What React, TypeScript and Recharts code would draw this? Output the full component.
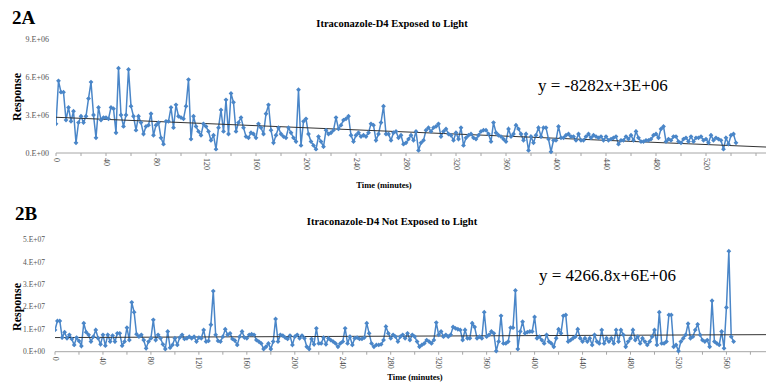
import React from 'react';
import { LineChart, Line, XAxis, YAxis, ReferenceLine } from 'recharts';

// sampling interval of the instrument (minutes between injections)
const SAMPLE_MINUTES = 2;

// 2A - exposed to light, response in millions
const exposedResponse = [
  2.3, 5.7, 4.8, 4.8, 2.6, 3.6, 2.5, 3.3, 0.8,
  2.4, 2.9, 2.4, 2.9, 4.3, 5.6, 3.0, 1.2, 3.6, 2.6,
  2.8, 2.8, 2.7, 3.6, 3.5, 1.6, 6.7, 3.0, 2.1, 3.0,
  6.6, 3.7, 2.9, 1.8, 2.9, 2.4, 1.5, 2.1, 2.2, 3.1,
  1.4, 2.2, 2.4, 1.2, 0.7, 2.5, 2.5, 3.6, 2.0,
  3.8, 2.9, 2.8, 2.7, 3.7, 5.8, 1.1, 2.9, 2.1, 1.7,
  1.4, 2.3, 2.1, 1.7, 1.0, 1.4, 0.3, 2.0, 3.4, 1.7,
  4.2, 1.5, 4.7, 4.0, 1.7, 2.4, 2.8, 2.0, 1.3, 1.2,
  1.6, 1.5, 1.2, 2.3, 2.0, 1.5, 3.1, 3.8, 1.8,
  0.8, 1.4, 2.0, 1.5, 1.3, 1.2, 2.0, 1.6, 1.2, 0.9,
  5.0, 0.6, 2.5, 2.7, 1.5, 0.9, 0.6, 0.3, 1.3, 0.9,
  0.5, 1.8, 1.5, 1.6, 1.8, 2.8, 1.9, 2.2, 2.6, 2.7,
  2.9, 1.4, 0.9, 1.4, 1.6, 1.3, 1.4, 1.3, 1.6, 2.3, 2.2, 1.0, 1.5, 2.4, 3.7,
  1.5, 1.5, 1.0, 1.6, 1.7, 1.2, 1.4, 0.7, 0.8,
  1.1, 1.4, 1.0, 1.7, 0.2, 0.8, 1.0, 1.8, 2.0, 1.7,
  2.0, 2.1, 2.3, 1.3, 1.7, 1.9, 1.5, 1.4, 1.0, 1.6,
  1.1, 2.0, 0.6, 1.2, 1.4, 1.5, 1.2, 1.1, 1.4, 1.7,
  1.8, 1.8, 1.5, 0.9, 2.4, 1.6, 1.4, 1.3, 1.1, 0.9,
  1.9, 1.3, 1.5, 2.2, 1.9, 1.5, 1.0, 1.5, 0.2, 1.3,
  0.8, 1.4, 2.0, 1.3, 2.0, 2.0, 1.1, 0.1, 1.0,
  1.0, 2.1, 1.2, 1.2, 1.4, 1.5, 1.3, 1.3, 1.0, 1.5,
  1.0, 1.0, 1.3, 1.5, 1.2, 1.4, 1.3, 1.2, 1.3, 1.0,
  1.3, 1.0, 1.1, 1.2, 1.3, 0.7, 1.0, 1.0, 1.3, 1.1,
  1.4, 1.0, 1.7, 1.2, 0.9, 0.9, 1.0, 1.0, 1.1, 1.4,
  1.5, 1.2, 1.9, 2.1, 0.9, 1.1, 1.0, 1.3, 1.3, 0.9,
  0.8, 1.1, 1.2, 0.9, 1.3, 0.9, 1.2, 1.2, 1.3, 1.0,
  1.1, 0.8, 1.4, 1.0, 1.2, 1.1, 1.0, 0.3, 1.2, 0.7,
  1.4, 1.5, 0.8,
];

// 2B - not exposed to light, response in millions
const darkResponse = [
  9.7, 13.7, 13.7, 6.3, 8.7, 6, 7.5, 5.7, 3,
  6.3, 4.8, 2.5, 12.7, 8.7, 7.5, 4.5, 6.7, 9.7, 6,
  3.3, 7.5, 2.7, 7.5, 4.5, 7.2, 4.5, 8.2, 8.2, 2.7,
  4.5, 10.7, 5.2, 22, 17.6, 7.8, 6.7, 7.5, 5.2, 1.5,
  4.5, 6, 14.2, 5.2, 7.5, 6, 3.3, 1.2, 9, 1.8,
  3, 6, 3, 6.3, 7.5, 5.7, 6, 6.7, 6, 6.7,
  4.5, 6.3, 6, 9.7, 4.5, 4.8, 12, 27, 7.5, 4.8,
  4.5, 6.7, 10, 7.5, 8.2, 5.7, 5, 3, 6.7,
  9, 6.3, 6, 7.5, 7.8, 7.5, 5.2, 4.5, 3.7, 1.2,
  2.2, 3.7, 1.2, 4.5, 14.6, 4.5, 7.5, 7.2, 6.3, 5.7,
  7.2, 3, 6.7, 7.5, 6, 7.2, 6, 2.2, 1.2, 5.7,
  3.3, 10.4, 3.7, 3.7, 6.3, 3.3, 6, 5.2, 4.5, 3.7,
  2.2, 3.7, 4.5, 10.4, 3.7, 6.7, 3, 6, 6.3, 5.7,
  5.7, 6.3, 12.7, 8.2, 3.7, 2.2, 3, 3, 3.3, 5.2,
  11.2, 8.2, 6, 7.5, 6.7, 4.5, 6.7, 7.5, 6, 8.2,
  5.2, 7.5, 6.7, 4.5, 2.2, 3, 3.7, 5.2, 4.5, 3.7,
  5.2, 13, 7.5, 9, 6.7, 7.5, 6.7, 7.5, 11, 10.4,
  10, 9.7, 5.2, 9.7, 6, 6, 12.7, 11, 6, 6.7,
  6, 17.6, 6.7, 7.5, 9, 8.2, 0.3, 4.5, 16, 3.7,
  3.7, 4.5, 10.7, 10.7, 27.3, 1.2, 9, 13.4, 8.2, 8.7,
  9, 9, 15.5, 6, 6.7, 5.2, 3.7, 7.5, 4.5, 3.7,
  2.2, 6, 10, 8.2, 16, 16.4, 4.5, 5.2, 6, 6.7,
  10, 6, 4.5, 6, 4.5, 6, 3, 7.5, 4.5, 3.7,
  9.7, 3.7, 6, 4.5, 6, 3.7, 9.7, 4.5, 9.7,
  7.5, 2.2, 4.5, 6, 9.7, 5.2, 6.7, 3.7, 6,
  4.5, 3, 4.5, 6.7, 9.7, 3, 17.6, 3.7, 3.7, 4.5,
  16.4, 16.4, 2.2, 3, 0.3, 4.5, 6, 7.5, 12.5, 6,
  6.7, 9.7, 12.2, 7.5, 5.2, 4.5, 5.2, 2.2, 22.7, 4.5,
  3.7, 3, 9, 1.5, 19.7, 44.8, 6.7, 4.5,
];

// linear trendline end points (minutes, response)
const exposedTrend = [
  { x: 0, y: 2.82e6 },
  { x: 568, y: 0.47e6 },
];
const darkTrend = [
  { x: 0, y: 6.3e6 },
  { x: 593, y: 7.6e6 },
];

const exposedYTicks = [0, 3e6, 6e6, 9e6];
const darkYTicks = [0, 1e7, 2e7, 3e7, 4e7, 5e7];
const exposedXTicks = [0, 20, 40, 60, 80, 100, 120, 140, 160, 180, 200, 220, 240, 260, 280, 300, 320, 340, 360, 380, 400, 420, 440, 460, 480, 500, 520, 540, 560];
const darkXTicks = [...exposedXTicks, 580];

const BLUE = '#4a86c8';
const SERIF = '"Liberation Serif", "Times New Roman", serif';

const toRows = (values: number[]) =>
  values.map((v, i) => ({ t: i * SAMPLE_MINUTES, response: v * 1e6 }));

const diamond = (p: any) => {
  const { cx, cy, index } = p;
  if (cx == null || cy == null) return <g key={`d${index}`} />;
  const r = 2.4;
  return (
    <path
      key={`d${index}`}
      d={`M${cx},${cy - r}L${cx + r},${cy}L${cx},${cy + r}L${cx - r},${cy}Z`}
      fill={BLUE}
    />
  );
};

const timeTick = (p: any, maxLabel: number) => {
  const { x, y, payload } = p;
  const v = payload.value;
  if (v % 40 !== 0 || v > maxLabel) return <g />;
  return (
    <text
      x={x}
      y={y}
      transform={`rotate(90 ${x} ${y})`}
      textAnchor="start"
      dominantBaseline="central"
      fontSize={8}
      fill="#444"
      fontFamily={SERIF}
    >
      {v}
    </text>
  );
};

interface PanelProps {
  values: number[];
  trend: { x: number; y: number }[];
  xMax: number;
  xTicks: number[];
  maxLabel: number;
  yMax: number;
  yTicks: number[];
  exp: number;
  height: number;
  margin: { top: number; right: number; bottom: number; left: number };
  yTickMargin: number;
  yFont: number;
}

function Panel(props: PanelProps) {
  const { values, trend, xMax, xTicks, maxLabel, yMax, yTicks, exp, height, margin, yTickMargin, yFont } = props;
  const data = toRows(values);
  const fmt = (v: number) => (v === 0 ? '0.E+00' : `${Math.round(v / 10 ** exp)}.E+0${exp}`);
  return (
    <LineChart width={766} height={height} data={data} margin={margin}>
      <XAxis
        dataKey="t"
        type="number"
        domain={[0, xMax]}
        ticks={xTicks}
        interval={0}
        allowDataOverflow
        height={25}
        stroke="#a6a6a6"
        tickSize={3}
        tickMargin={2}
        tick={(p: any) => timeTick(p, maxLabel)}
      />
      <YAxis
        type="number"
        domain={[0, yMax]}
        ticks={yTicks}
        width={50}
        axisLine={false}
        tickLine={false}
        tickSize={0}
        tickMargin={yTickMargin}
        tickFormatter={fmt}
        tick={{ fontSize: yFont, fill: '#555', fontFamily: SERIF }}
      />
      <Line
        dataKey="response"
        stroke={BLUE}
        strokeWidth={1.5}
        dot={diamond}
        isAnimationActive={false}
      />
      <ReferenceLine segment={trend} stroke="#333" strokeWidth={1} />
    </LineChart>
  );
}

export default function App() {
  return (
    <div
      style={{
        position: 'fixed',
        left: 0,
        top: 0,
        width: 766,
        height: 386,
        background: '#fff',
        overflow: 'hidden',
      }}
    >
      <div style={{ position: 'absolute', left: 0, top: 0 }}>
        <Panel
          values={exposedResponse}
          trend={exposedTrend}
          xMax={568}
          xTicks={exposedXTicks}
          maxLabel={520}
          yMax={9e6}
          yTicks={exposedYTicks}
          exp={6}
          height={195}
          margin={{ top: 39, right: 0, bottom: 17, left: 6 }}
          yTickMargin={7}
          yFont={8}
        />
      </div>
      <div style={{ position: 'absolute', left: 0, top: 195 }}>
        <Panel
          values={darkResponse}
          trend={darkTrend}
          xMax={593}
          xTicks={darkXTicks}
          maxLabel={560}
          yMax={5e7}
          yTicks={darkYTicks}
          exp={7}
          height={191}
          margin={{ top: 44.5, right: 0, bottom: 9.3, left: 5 }}
          yTickMargin={10}
          yFont={7.5}
        />
      </div>
      <svg
        width={766}
        height={386}
        style={{ position: 'absolute', left: 0, top: 0, pointerEvents: 'none' }}
        fontFamily={SERIF}
      >
        <text x={12} y={24} fontSize={19} fontWeight="bold">2A</text>
        <text x={392} y={27} fontSize={10.5} fontWeight="bold" textAnchor="middle">
          Itraconazole-D4 Exposed to Light
        </text>
        <text x={17} y={97} fontSize={12} fontWeight="bold" textAnchor="middle" dominantBaseline="central" transform="rotate(-90 17 97)">
          Response
        </text>
        <text x={538} y={91} fontSize={17}>y = -8282x+3E+06</text>
        <text x={384} y={188} fontSize={8.5} fontWeight="bold" textAnchor="middle">Time (minutes)</text>

        <text x={15} y={220} fontSize={19} fontWeight="bold">2B</text>
        <text x={392} y={225} fontSize={10.5} fontWeight="bold" textAnchor="middle">
          Itraconazole-D4 Not Exposed to Light
        </text>
        <text x={17} y={307} fontSize={12} fontWeight="bold" textAnchor="middle" dominantBaseline="central" transform="rotate(-90 17 307)">
          Response
        </text>
        <text x={539} y={281} fontSize={17}>y = 4266.8x+6E+06</text>
        <text x={415} y={380} fontSize={8.5} fontWeight="bold" textAnchor="middle">Time (minutes)</text>
      </svg>
    </div>
  );
}
